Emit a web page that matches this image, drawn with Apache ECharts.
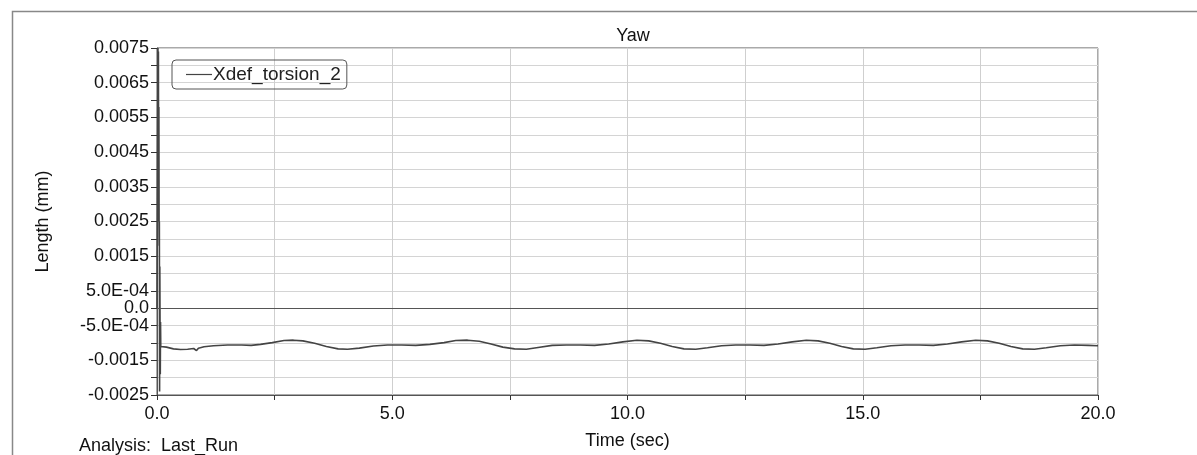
<!DOCTYPE html>
<html lang="en">
  <head>
    <meta charset="UTF-8" />
    <title>Yaw</title>
    <script src="https://cdn.jsdelivr.net/npm/echarts@6/dist/echarts.min.js"></script>
  </head>
  <body style="margin: 0; background: #fff;">
    <div id="chart" style="width: 1197px; height: 455px;"></div>
  </body>
  <script>
    // time (sec) and Xdef_torsion_2 (mm)
    const times = [
      0.0, 0.02, 0.025, 0.03, 0.035, 0.04, 0.045, 0.05, 0.055, 0.06, 0.065,
      0.07, 0.075, 0.08, 0.09, 0.1,
      0.2, 0.35, 0.5, 0.65, 0.78, 0.84, 0.88, 1.0, 1.2, 1.5, 1.8, 2.0, 2.2,
      2.45, 2.7, 2.9, 3.1, 3.35, 3.6, 3.85, 4.05, 4.3, 4.6, 4.9, 5.2, 5.5, 5.8,
      6.1, 6.35, 6.6, 6.85, 7.1, 7.35, 7.6, 7.85, 8.1, 8.4, 8.7, 9.0, 9.3, 9.6,
      9.9, 10.2, 10.45, 10.7, 10.95, 11.2, 11.45, 11.7, 12.0, 12.3, 12.6, 12.9,
      13.2, 13.5, 13.8, 14.05, 14.3, 14.55, 14.8, 15.05, 15.3, 15.6, 15.9, 16.2,
      16.5, 16.8, 17.1, 17.4, 17.65, 17.9, 18.15, 18.4, 18.65, 18.9, 19.2, 19.5,
      19.8, 20.0
    ]
    const values = [
      0.0, 0.0075, 0.0025, 0.0074, 0.0026, 0.0058, 0.0018, 0.0025, -0.0024, 0.0012, -0.0006,
      -0.0019, -0.0004, -0.0011, -0.00108, -0.00108,
      -0.00112, -0.00117, -0.00119, -0.00118, -0.00116, -0.00122, -0.00115, -0.00111, -0.00108, -0.00106, -0.00106, -0.00107, -0.00104,
      -0.00099, -0.00093, -0.00092, -0.00094, -0.00101, -0.0011, -0.00117, -0.00118, -0.00115, -0.00109, -0.00106, -0.00106, -0.00107, -0.00104,
      -0.00099, -0.00093, -0.00092, -0.00095, -0.00103, -0.00112, -0.00117, -0.00118, -0.00113, -0.00107, -0.00106, -0.00106, -0.00107, -0.00103,
      -0.00097, -0.00092, -0.00094, -0.00101, -0.0011, -0.00117, -0.00118, -0.00114, -0.00108, -0.00106, -0.00106, -0.00107,
      -0.00103, -0.00097, -0.00092, -0.00094, -0.00101, -0.0011, -0.00117, -0.00118, -0.00114, -0.00108, -0.00106, -0.00106,
      -0.00107, -0.00103, -0.00097, -0.00092, -0.00094, -0.00101, -0.0011, -0.00117, -0.00118, -0.00114, -0.00108, -0.00106,
      -0.00107, -0.00108
    ]
    const xTicks = ['0.0', '5.0', '10.0', '15.0', '20.0']

    const font = 'Liberation Sans, Arial, sans-serif'
    let chart = echarts.init(document.getElementById('chart'))

    // y labels only on odd multiples of 5e-4, plus the zero line
    function yLabel(v) {
      let k = Math.round(v / 0.0005)
      if (k === 0) return '0.0'
      if (k % 2 === 0) return ''
      if (Math.abs(k) === 1) return (k < 0 ? '-' : '') + '5.0E-04'
      return (k * 0.0005).toFixed(4)
    }

    chart.setOption({
      animation: false,
      title: [
        {
          text: 'Yaw',
          left: 628,
          textAlign: 'center',
          top: 22,
          textStyle: { fontFamily: font, fontSize: 18, fontWeight: 'normal', color: '#111' }
        },
        {
          text: 'Analysis:  Last_Run',
          left: 74,
          top: 432,
          textStyle: { fontFamily: font, fontSize: 18, fontWeight: 'normal', color: '#111' }
        }
      ],
      graphic: [
        {
          type: 'rect',
          left: 10,
          top: 9,
          shape: { width: 1200, height: 460 },
          style: { fill: 'none', stroke: '#888', lineWidth: 1.5 },
          silent: true
        }
      ],
      legend: {
        left: 172,
        top: 60,
        padding: [5, 6, 5, 14],
        borderColor: '#555',
        borderWidth: 1,
        borderRadius: 4,
        icon: 'rect',
        itemWidth: 26,
        itemHeight: 1.2,
        itemGap: 0,
        textStyle: { fontFamily: font, fontSize: 19, color: '#222', padding: [0, 0, 0, -4] },
        data: ['Xdef_torsion_2']
      },
      grid: {
        left: 157,
        right: 99,
        top: 48,
        bottom: 57,
        show: true,
        borderColor: '#555',
        borderWidth: 1
      },
      xAxis: {
        type: 'value',
        min: 0,
        max: 20,
        interval: 2.5,
        name: 'Time (sec)',
        nameLocation: 'middle',
        nameGap: 37,
        nameTextStyle: { fontFamily: font, fontSize: 18, color: '#111' },
        axisLine: { onZero: false, lineStyle: { color: '#555' } },
        axisTick: { show: true, length: 5, lineStyle: { color: '#333' } },
        axisLabel: {
          fontFamily: font,
          fontSize: 18,
          color: '#111',
          margin: 10,
          formatter: v => (Math.abs(v % 5) < 1e-9 ? xTicks[Math.round(v / 5)] : '')
        },
        splitLine: { show: true, lineStyle: { color: '#cfcfcf' } }
      },
      yAxis: {
        type: 'value',
        min: -0.0025,
        max: 0.0075,
        interval: 0.0005,
        name: 'Length (mm)',
        nameLocation: 'middle',
        nameGap: 105,
        nameTextStyle: { fontFamily: font, fontSize: 18, color: '#111' },
        axisLine: { show: true, onZero: false, lineStyle: { color: '#555' } },
        axisTick: { show: true, length: 6, lineStyle: { color: '#333' } },
        axisLabel: { fontFamily: font, fontSize: 18, color: '#111', margin: 8, formatter: yLabel },
        splitLine: { show: true, lineStyle: { color: '#d4d4d4' } }
      },
      series: [
        {
          name: 'Xdef_torsion_2',
          type: 'line',
          symbol: 'none',
          clip: true,
          data: times.map((t, i) => [t, values[i]]),
          lineStyle: { color: '#444', width: 1.6 },
          itemStyle: { color: '#444' },
          markLine: {
            silent: true,
            symbol: 'none',
            label: { show: false },
            lineStyle: { color: '#555', width: 1.2, type: 'solid' },
            data: [{ yAxis: 0 }]
          }
        }
      ]
    })
  </script>
</html>
